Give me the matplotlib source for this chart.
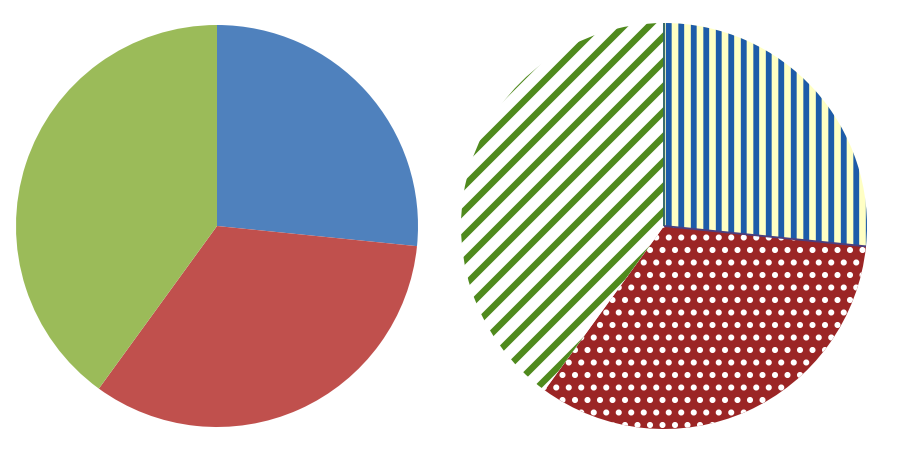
import numpy as np
import matplotlib.pyplot as plt

# slice shares (same data in both pies)
values = [26.6, 33.4, 40.0]

# left pie: plain fills
plain_colors = ['#4F81BD', '#C0504D', '#9BBB59']

# right pie: pattern fills
pattern_faces = ['#FFFFC4', '#9B2525', '#FFFFFF']
pattern_inks = ['#1D5BA9', '#FFFFFF', '#4F8A1D']
hatches = ['||', '..', '//']
hatch_widths = [2.8, 1.7, 3.1]

DPI = 150  # hatch cell is one inch, so 150 px here
W, H = 901, 459


def pie_axes(fig, cx, cy, r):
    # cx, cy, r in pixels, y measured from the top
    return fig.add_axes([(cx - r) / W, (H - cy - r) / H, 2 * r / W, 2 * r / H])


def finish(ax):
    ax.set_xlim(-1, 1)
    ax.set_ylim(-1, 1)
    ax.set_aspect('equal')
    ax.axis('off')


fig = plt.figure(figsize=(W / DPI, H / DPI), dpi=DPI)

ax1 = pie_axes(fig, 217, 226, 201)
ax1.pie(values, colors=plain_colors, startangle=90, counterclock=False,
        radius=1, wedgeprops={'linewidth': 0})
finish(ax1)

ax2 = pie_axes(fig, 664, 226, 203)
wedges, _ = ax2.pie(values, colors=pattern_faces, startangle=90,
                    counterclock=False, radius=1)
for w, ink, h, hw in zip(wedges, pattern_inks, hatches, hatch_widths):
    w.set_edgecolor(ink)
    w.set_linewidth(0)
    w.set_hatch(h)
    w.set_hatch_linewidth(hw)

# thin dark seams along both edges of the striped blue slice
for ang, col in [(wedges[0].theta2, '#2E6466'), (wedges[0].theta1, '#4B3F80')]:
    t = np.deg2rad(ang)
    ax2.plot([0, np.cos(t)], [0, np.sin(t)], color=col, lw=0.9,
             solid_capstyle='butt')
finish(ax2)

fig.savefig('out.png', dpi=DPI)
